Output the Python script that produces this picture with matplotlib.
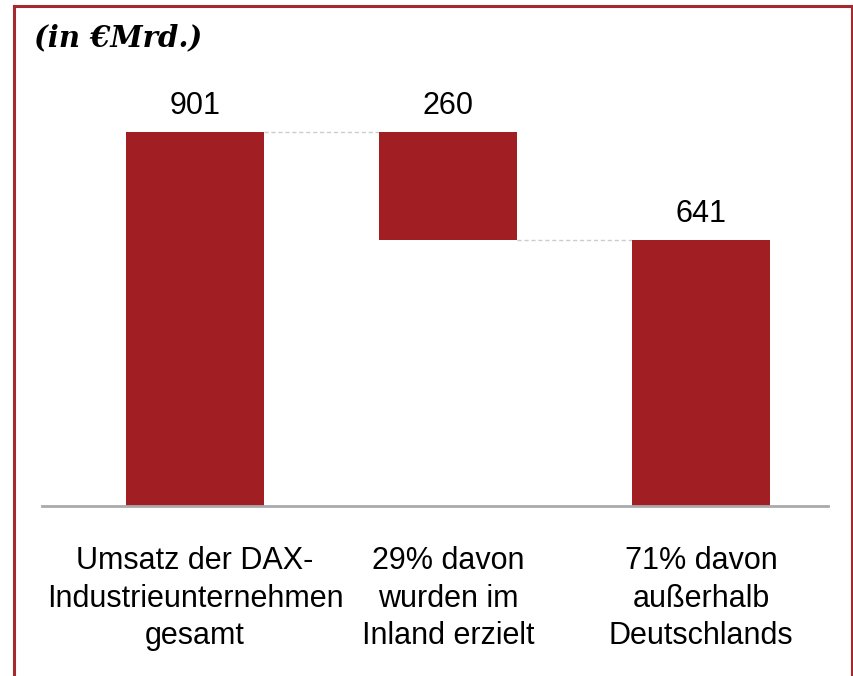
import matplotlib.pyplot as plt

# Data
categories = ["Umsatz der DAX-\nIndustrieunternehmen\ngesamt",
              "29% davon\nwurden im\nInland erzielt",
              "71% davon\naußerhalb\nDeutschlands"]
values = [901, 260, 641]
bottoms = [0, 641, 0]

bar_color = "#A11F22"
frame_color = "#A52A2E"

fig = plt.figure(figsize=(8.54, 6.76), dpi=100)
ax = fig.add_axes([42 / 854, 1 - 506 / 676, 786 / 854, 406 / 676])

x = list(range(len(values)))
width = 0.545
ax.bar(x, values, width=width, bottom=bottoms, color=bar_color,
       edgecolor="none", zorder=2)

# value labels above bars
for xi, v, b in zip(x, values, bottoms):
    ax.text(xi, b + v + 26, str(v), ha="center", va="bottom",
            fontsize=22, family="Liberation Sans")

# dashed connectors
tops = [b + v for v, b in zip(values, bottoms)]
ax.plot([0 + width / 2, 1 - width / 2], [tops[0], tops[0]],
        ls=(0, (3, 2)), color="#cccccc", lw=1, zorder=1)
ax.plot([1 + width / 2, 2 - width / 2], [bottoms[1], bottoms[1]],
        ls=(0, (3, 2)), color="#cccccc", lw=1, zorder=1)

ax.set_xlim(-0.605, 2.502)
ax.set_ylim(0, 406 / 0.4151)
ax.axhline(0, color="#aaaaaa", lw=2, zorder=3, clip_on=False)
for s in ax.spines.values():
    s.set_visible(False)
ax.set_yticks([])
ax.set_xticks(x)
ax.set_xticklabels(categories, fontsize=22, family="Liberation Sans",
                   linespacing=1.32)
ax.tick_params(axis="x", length=0, pad=29)

# title
fig.text(34 / 854, 1 - 38 / 676, "(in €Mrd.)", fontsize=21,
         family="DejaVu Serif", weight="bold", style="italic", va="center")

# frame (left, top, right)
fig.add_artist(plt.Line2D([14 / 854, 14 / 854], [0, 1 - 6 / 676],
                          color=frame_color, lw=2.2))
fig.add_artist(plt.Line2D([14 / 854, 852 / 854], [1 - 6 / 676, 1 - 6 / 676],
                          color=frame_color, lw=2.2))
fig.add_artist(plt.Line2D([852 / 854, 852 / 854], [0, 1 - 6 / 676],
                          color=frame_color, lw=2.2))

fig.savefig("out.png", dpi=100)
